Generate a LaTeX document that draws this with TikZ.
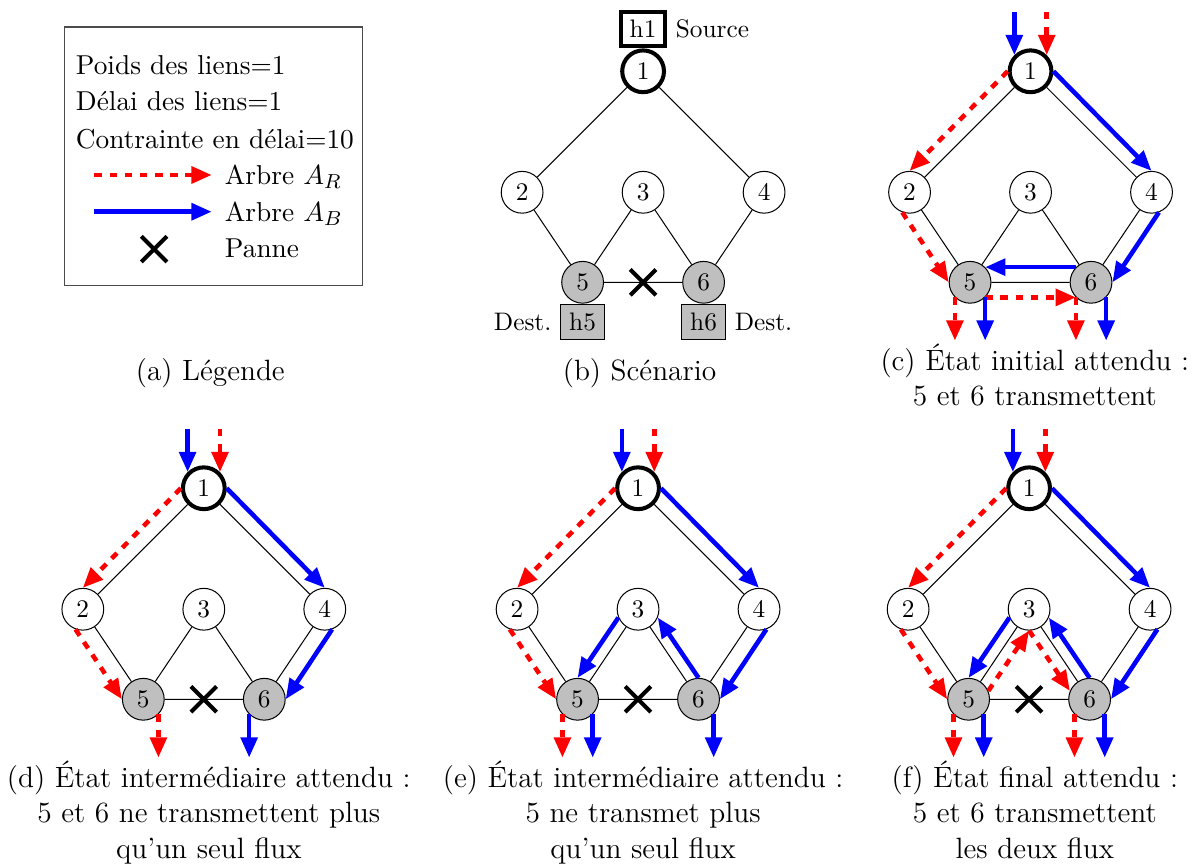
\documentclass[tikz,border=0pt]{standalone}
\usetikzlibrary{positioning,arrows.meta,shapes.misc,calc}

\begin{document}
\begin{tikzpicture}[
    noeud/.style={circle, draw, fill=white, minimum size=0.58cm, inner sep=0pt},
    hote/.style={draw, rectangle},
    arbreR/.style={red, dashed, line width=1.8pt, -{Triangle[length=8pt,width=6.5pt]}},
    arbreB/.style={blue, line width=1.8pt, -{Triangle[length=8pt,width=6.5pt]}},
    panne/.style={cross out, draw, ultra thick, minimum size=0.3cm, inner sep=0pt},
    legende/.style={anchor=base west, font=\fontsize{10.8}{13}\selectfont},
    soustitre/.style={align=center, anchor=base, font=\fontsize{11.6}{14}\selectfont}
]
    \useasboundingbox (0,0) rectangle (16.58,-11.99);

    % Legend
    \draw[black!70] (0.89,-0.375) rectangle (5.04,-3.97);
    \node[legende] (legPoids) at (0.93,-1.03) {Poids des liens=1};
    \node[legende] (legDelai) at (0.93,-1.54) {Délai des liens=1};
    \node[legende] (legContrainte) at (0.93,-2.06) {Contrainte en délai=10};
    \node[legende] (legR) at (3.0,-2.56) {Arbre $A_R$};
    \node[legende] (legB) at (3.0,-3.07) {Arbre $A_B$};
    \node[legende] (legPanne) at (3.0,-3.58) {Panne};
    \coordinate (legR0) at (1.31,-2.43);
    \coordinate (legR1) at (2.94,-2.43);
    \coordinate (legB0) at (1.31,-2.94);
    \coordinate (legB1) at (2.94,-2.94);
    \draw[arbreR] (legR0) -- (legR1);
    \draw[arbreB] (legB0) -- (legB1);
    \node[panne] (legX) at (2.14,-3.46) {};

    % Networks
    \foreach \p/\x/\y in {b/8.93/-0.99, c/14.31/-0.99, d/2.83/-6.78, e/8.86/-6.78, f/14.29/-6.78} {
        \node[noeud, ultra thick] (\p1) at (\x,\y) {1};
        \node[noeud] (\p2) at (\x-1.68,\y-1.68) {2};
        \node[noeud] (\p3) at (\x,\y-1.68) {3};
        \node[noeud] (\p4) at (\x+1.68,\y-1.68) {4};
        \node[noeud, fill=gray!50] (\p5) at (\x-0.84,\y-2.93) {5};
        \node[noeud, fill=gray!50] (\p6) at (\x+0.84,\y-2.93) {6};
        \draw (\p1) -- (\p2) (\p1) -- (\p4) (\p2) -- (\p5) (\p3) -- (\p5)
              (\p3) -- (\p6) (\p4) -- (\p6) (\p5) -- (\p6);
    }

    % Failures
    \foreach \p in {b,d,e,f} {
        \node[panne] (\p56) at ($(\p5)!0.5!(\p6)$) {};
    }

    % Hosts
    \node[hote, ultra thick] (h1) [above=0pt of b1] {h1};
    \node[right=0pt of h1] (src) {Source};
    \node[hote, fill=gray!50] (h5) [below=0pt of b5] {h5};
    \node[left=0pt of h5] (dest5) {Dest.};
    \node[hote, fill=gray!50] (h6) [below=0pt of b6] {h6};
    \node[right=0pt of h6] (dest6) {Dest.};

    % Common flows
    \foreach \p in {c,d,e,f} {
        \coordinate (\p1inB) at ([yshift=0.6cm]\p1.north west);
        \coordinate (\p1inR) at ([yshift=0.6cm]\p1.north east);
        \coordinate (\p5sw) at ([yshift=-0.6cm]\p5.south west);
        \coordinate (\p5se) at ([yshift=-0.6cm]\p5.south east);
        \coordinate (\p6sw) at ([yshift=-0.6cm]\p6.south west);
        \coordinate (\p6se) at ([yshift=-0.6cm]\p6.south east);
        \draw[arbreB] (\p1inB) -- (\p1.north west);
        \draw[arbreR] (\p1inR) -- (\p1.north east);
        \draw[arbreR] (\p1.west) -- (\p2.north);
        \draw[arbreB] (\p1.east) -- (\p4.north);
        \draw[arbreR] (\p2.-110) -- (\p5.west);
        \draw[arbreB] (\p4.-70) -- (\p6.east);
    }

    % (c) initial
    \draw[arbreB] (c6.north west) -- (c5.north east);
    \draw[arbreR] (c5.south east) -- (c6.south west);
    \draw[arbreR] (c5.south west) -- (c5sw);
    \draw[arbreB] (c5.south east) -- (c5se);
    \draw[arbreR] (c6.south west) -- (c6sw);
    \draw[arbreB] (c6.south east) -- (c6se);

    % (d) intermediate
    \draw[arbreR] (d5.south east) -- (d5se);
    \draw[arbreB] (d6.south west) -- (d6sw);

    % (e) intermediate
    \draw[arbreB] (e3.-157) -- (e5.north);
    \draw[arbreB] (e6.north) -- (e3.-23);
    \draw[arbreR] (e5.south west) -- (e5sw);
    \draw[arbreB] (e5.south east) -- (e5se);
    \draw[arbreB] (e6.south east) -- (e6se);

    % (f) final
    \draw[arbreB] (f3.-157) -- (f5.north);
    \draw[arbreB] (f6.north) -- (f3.-23);
    \draw[arbreR] (f5.23) -- (f3.south);
    \draw[arbreR] (f3.south) -- (f6.157);
    \draw[arbreR] (f5.south west) -- (f5sw);
    \draw[arbreB] (f5.south east) -- (f5se);
    \draw[arbreR] (f6.south west) -- (f6sw);
    \draw[arbreB] (f6.south east) -- (f6se);

    % Captions (base = last line)
    \node[soustitre] (capA) at (2.92,-5.29) {(a) Légende};
    \node[soustitre] (capB) at (8.88,-5.29) {(b) Scénario};
    \node[soustitre] (capC) at (14.37,-5.63) {(c) État initial attendu :\\5 et 6 transmettent};
    \node[soustitre] (capD) at (2.90,-11.92) {(d) État intermédiaire attendu :\\5 et 6 ne transmettent plus\\qu'un seul flux};
    \node[soustitre] (capE) at (8.93,-11.92) {(e) État intermédiaire attendu :\\5 ne transmet plus\\qu'un seul flux};
    \node[soustitre] (capF) at (14.37,-11.92) {(f) État final attendu :\\5 et 6 transmettent\\les deux flux};
\end{tikzpicture}
\end{document}
